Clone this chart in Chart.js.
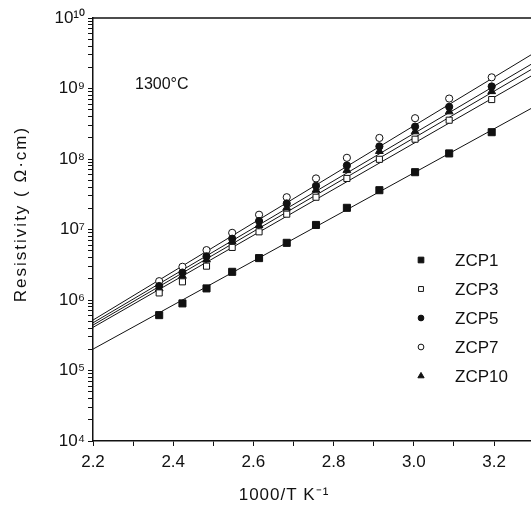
<!DOCTYPE html>
<html>
<head>
    <title>Resistivity vs 1000/T</title>
    <script src="https://cdn.jsdelivr.net/npm/chart.js"></script>
    <style>
        body { margin: 0; background: #fff; overflow: hidden; }
        #wrap { width: 531px; height: 508px; }
    </style>
</head>
<body>
<div id="wrap"><canvas id="myChart"></canvas></div>
<script>
// measured points (same temperatures for all samples)
const xVals = [2.365, 2.423, 2.483, 2.547, 2.614, 2.683, 2.756, 2.833, 2.914, 3.003, 3.088, 3.194];
const zcp1 = [6.1e5, 8.95e5, 1.46e6, 2.51e6, 3.93e6, 6.47e6, 1.16e7, 2.03e7, 3.61e7, 6.5e7, 1.20e8, 2.40e8];
const zcp3 = [1.26e6, 1.81e6, 3.02e6, 5.57e6, 9.27e6, 1.65e7, 2.87e7, 5.3e7, 9.9e7, 1.91e8, 3.55e8, 6.97e8];
const zcp5 = [1.58e6, 2.45e6, 4.17e6, 7.4e6, 1.32e7, 2.34e7, 4.17e7, 8.1e7, 1.51e8, 2.88e8, 5.5e8, 1.07e9];
const zcp7 = [1.85e6, 2.96e6, 5.1e6, 8.97e6, 1.62e7, 2.87e7, 5.3e7, 1.04e8, 1.99e8, 3.79e8, 7.2e8, 1.44e9];
const zcp10 = [1.45e6, 2.19e6, 3.72e6, 6.8e6, 1.15e7, 2.04e7, 3.63e7, 6.9e7, 1.29e8, 2.45e8, 4.7e8, 9.1e8];

// fitted lines, read at the left and right edge of the plot
const fitX = [2.2, 3.292];
const fit1 = [2.01e5, 5.2e8];
const fit3 = [4.09e5, 1.5e9];
const fit5 = [4.75e5, 2.2e9];
const fit7 = [5.19e5, 3.0e9];
const fit10 = [4.41e5, 1.85e9];

const seriesNames = ['ZCP1', 'ZCP3', 'ZCP5', 'ZCP7', 'ZCP10'];
const yTickValues = [1e4, 1e5, 1e6, 1e7, 1e8, 1e9, 1e10];
const xTickValues = [2.2, 2.4, 2.6, 2.8, 3.0, 3.2];

const sup = { '0': '⁰', '1': '¹', '2': '²', '3': '³', '4': '⁴', '5': '⁵', '6': '⁶', '7': '⁷', '8': '⁸', '9': '⁹' };
const FONT = "'Liberation Sans', Arial, sans-serif";

const markers = {
    ZCP1: { pointStyle: 'rect', radius: 5, fill: '#111' },
    ZCP3: { pointStyle: 'rect', radius: 4.3, fill: '#fff' },
    ZCP5: { pointStyle: 'circle', radius: 3.6, fill: '#111' },
    ZCP7: { pointStyle: 'circle', radius: 3.6, fill: '#fff' },
    ZCP10: { pointStyle: 'triangle', radius: 4.5, fill: '#111' }
};

function pts(xs, ys) {
    return xs.map((x, i) => ({ x: x, y: ys[i] }));
}

function pointSet(name, ys) {
    const m = markers[name];
    return {
        label: name,
        data: pts(xVals, ys),
        showLine: false,
        pointStyle: m.pointStyle,
        pointRadius: m.radius,
        pointBackgroundColor: m.fill,
        pointBorderColor: '#111',
        pointBorderWidth: 1
    };
}

function lineSet(name, ys) {
    return {
        label: name + ' fit',
        data: pts(fitX, ys),
        showLine: true,
        borderColor: '#111',
        borderWidth: 1,
        pointRadius: 0,
        fill: false
    };
}

// legend, temperature label, top frame and axis titles
const extras = {
    id: 'extras',
    afterDraw(chart) {
        const ctx = chart.ctx;
        const area = chart.chartArea;
        ctx.save();
        ctx.strokeStyle = '#111';
        ctx.lineWidth = 1.5;
        ctx.beginPath();
        ctx.moveTo(area.left, area.top);
        ctx.lineTo(area.right, area.top);
        ctx.stroke();

        ctx.fillStyle = '#111';
        ctx.font = '16px ' + FONT;
        ctx.textBaseline = 'middle';
        ctx.textAlign = 'left';
        ctx.fillText('1300°C', 135, 85);

        ctx.font = '17px ' + FONT;
        ctx.letterSpacing = '1px';
        ctx.textAlign = 'center';
        ctx.fillText('1000/T K⁻¹', 284, 495);

        // y title, rotated
        ctx.save();
        ctx.translate(21, 214);
        ctx.rotate(-Math.PI / 2);
        ctx.font = '17px ' + FONT;
        ctx.letterSpacing = '2px';
        ctx.fillText('Resistivity ( Ω·cm)', 0, 0);
        ctx.restore();

        ctx.letterSpacing = '0px';
        ctx.font = '17px ' + FONT;
        ctx.textAlign = 'left';
        seriesNames.forEach((name, i) => {
            const y = 260 + i * 29;
            const m = markers[name];
            ctx.fillStyle = m.fill;
            ctx.strokeStyle = '#111';
            ctx.lineWidth = 1;
            if (Chart.helpers && Chart.helpers.drawPoint) {
                Chart.helpers.drawPoint(ctx, { pointStyle: m.pointStyle, radius: m.radius * 0.8, rotation: 0, borderWidth: 1 }, 421, y);
            }
            ctx.fillStyle = '#111';
            ctx.fillText(name, 455, y + 1);
        });
        ctx.restore();
    }
};

const ctx = document.getElementById('myChart').getContext('2d');
const myChart = new Chart(ctx, {
    type: 'scatter',
    data: {
        datasets: [
            pointSet('ZCP1', zcp1),
            pointSet('ZCP3', zcp3),
            pointSet('ZCP5', zcp5),
            pointSet('ZCP7', zcp7),
            pointSet('ZCP10', zcp10),
            lineSet('ZCP1', fit1),
            lineSet('ZCP3', fit3),
            lineSet('ZCP5', fit5),
            lineSet('ZCP7', fit7),
            lineSet('ZCP10', fit10)
        ]
    },
    options: {
        responsive: true,
        maintainAspectRatio: false,
        animation: false,
        layout: { autoPadding: false, padding: { top: 18, right: 0, left: 0, bottom: 0 } },
        plugins: {
            legend: { display: false },
            tooltip: { enabled: false }
        },
        scales: {
            x: {
                type: 'linear',
                min: 2.2,
                max: 3.292,
                afterBuildTicks: (scale) => {
                    const t = [];
                    for (let v = 2.2; v <= 3.25; v += 0.1) t.push({ value: Math.round(v * 10) / 10 });
                    scale.ticks = t;
                },
                afterFit: (scale) => { scale.height = 67; },
                ticks: {
                    autoSkip: false,
                    maxRotation: 0,
                    padding: 6,
                    color: '#111',
                    font: { family: FONT, size: 17 },
                    callback: (v) => xTickValues.some(t => Math.abs(t - v) < 1e-6) ? v.toFixed(1) : ''
                },
                grid: { drawOnChartArea: false, drawTicks: true, tickLength: 5, color: '#111' },
                border: { color: '#111', width: 1.5 }
            },
            y: {
                type: 'logarithmic',
                min: 1e4,
                max: 1e10,
                afterBuildTicks: (scale) => {
                    scale.ticks = scale.ticks.filter(t => {
                        const e = Math.floor(Math.log10(t.value) + 1e-9);
                        const m = t.value / Math.pow(10, e);
                        return Math.abs(m - Math.round(m)) < 1e-6;
                    });
                },
                afterFit: (scale) => { scale.width = 93; },
                ticks: {
                    autoSkip: false,
                    padding: 3,
                    color: '#111',
                    font: { family: FONT, size: 17 },
                    callback: (v) => {
                        if (!yTickValues.some(t => Math.abs(t - v) / t < 1e-6)) return '';
                        const e = String(Math.round(Math.log10(v)));
                        return '10' + e.split('').map(c => sup[c]).join('');
                    }
                },
                grid: { drawOnChartArea: false, drawTicks: true, tickLength: 5, color: '#111' },
                border: { color: '#111', width: 1.5 }
            }
        }
    },
    plugins: [extras]
});
</script>
</body>
</html>
